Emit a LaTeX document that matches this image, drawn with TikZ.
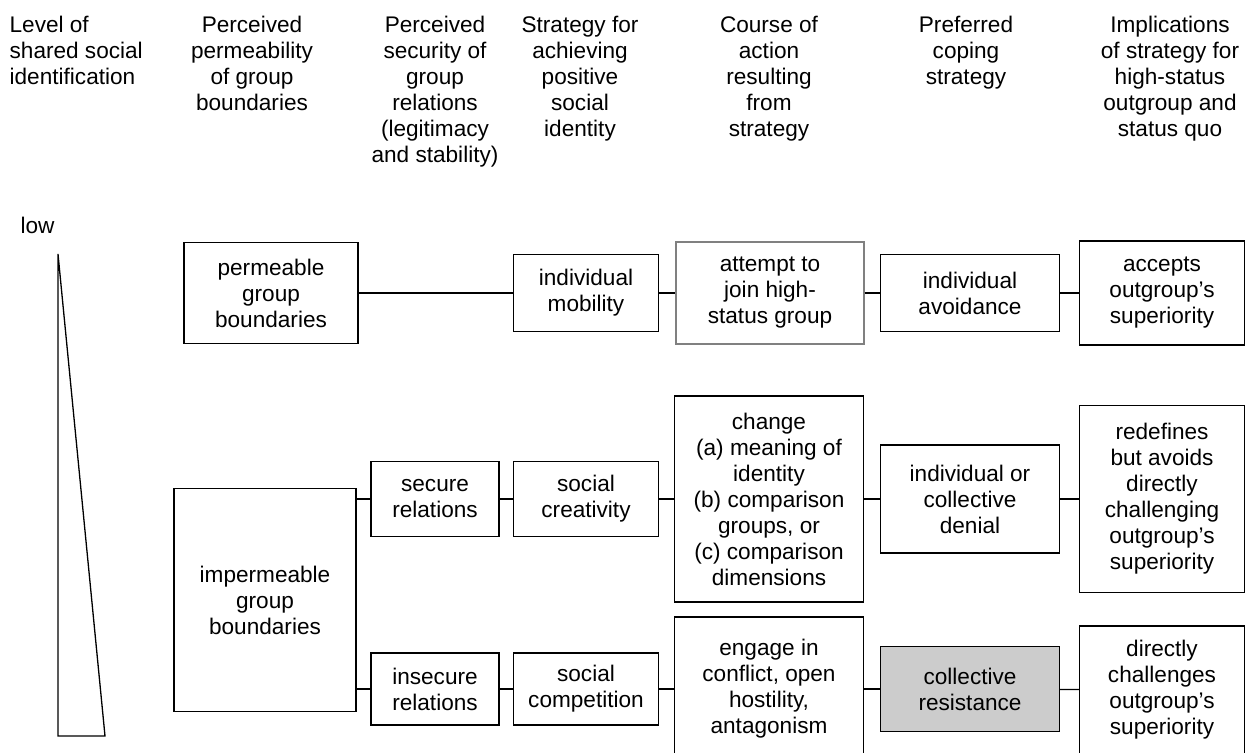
\documentclass[tikz,border=0pt]{standalone}
\usepackage{fontspec}
\setmainfont{Liberation Sans}
\begin{document}
\begin{tikzpicture}[x=1pt,y=-1pt, line width=1.3pt,
  font=\fontsize{22.6}{26}\selectfont,
  box/.style={draw, align=center, inner sep=2pt},
  head/.style={align=center, anchor=north, inner sep=0pt}]
\useasboundingbox (0,0) rectangle (1247,752);

% headings
\node[head, align=left, anchor=north west] (hlevel) at (9,15) {Level of\\shared social\\identification};
\foreach \x/\htext [count=\i] in {252/{Perceived\\permeability\\of group\\boundaries},
  435/{Perceived\\security of\\group\\relations\\(legitimacy\\and stability)},
  580/{Strategy for\\achieving\\positive\\social\\identity},
  769/{Course of\\action\\resulting\\from\\strategy},
  966/{Preferred\\coping\\strategy},
  1170/{Implications\\of strategy for\\high-status\\outgroup and\\status quo}}
\node[head] (head\i) at (\x,15) {\htext};

% level wedge
\node[anchor=west, inner sep=0pt] (low) at (20,225) {low};
\draw (58,254) -- (58,736) -- (105,736) -- cycle;

% boundaries
\node[box, minimum width=174pt, minimum height=101pt] (perm) at (271,293) {permeable\\group\\boundaries};
\node[box, minimum width=182pt, minimum height=223pt] (imperm) at (265,600) {impermeable\\group\\boundaries};

% relations
\node[box, minimum width=128pt, minimum height=75pt] (sec) at (435,499) {secure\\relations};
\node[box, minimum width=128pt, minimum height=72pt] (insec) at (435,689) {insecure\\relations};

% strategy
\node[box, minimum width=145pt, minimum height=77pt] (mob) at (586,293) {individual\\mobility};
\node[box, minimum width=145pt, minimum height=75pt] (crea) at (586,499) {social\\creativity};
\node[box, minimum width=145pt, minimum height=72pt] (comp) at (586,689) {social\\competition};

% course of action
\node[box, draw=black!50, minimum width=188pt, minimum height=102pt] (att) at (770,293) {attempt to\\join high-\\status group};
\node[box, minimum width=189pt, minimum height=206pt] (chg) at (769,499) {change\\(a) meaning of\\identity\\(b) comparison\\groups, or\\(c) comparison\\dimensions};
\node[box, minimum width=189pt, minimum height=144pt] (eng) at (769,689) {engage in\\conflict, open\\hostility,\\antagonism};

% coping
\node[box, minimum width=179pt, minimum height=77pt] (avoid) at (970,293) {individual\\avoidance};
\node[box, minimum width=179pt, minimum height=108pt] (deny) at (970,499) {individual or\\collective\\denial};
\node[box, fill=black!20, minimum width=179pt, minimum height=85pt] (resist) at (970,689) {collective\\resistance};

% implications
\node[box, minimum width=165pt, minimum height=104pt] (acc) at (1162,293) {accepts\\outgroup’s\\superiority};
\node[box, minimum width=165pt, minimum height=187pt] (redef) at (1162,499) {redefines\\but avoids\\directly\\challenging\\outgroup’s\\superiority};
\node[box, minimum width=165pt, minimum height=128pt] (direct) at (1162,690) {directly\\challenges\\outgroup’s\\superiority};

\foreach \a/\b in {perm/mob,mob/att,att/avoid,avoid/acc,
  sec/crea,crea/chg,chg/deny,deny/redef,
  insec/comp,comp/eng,eng/resist,resist/direct}
\draw (\a) -- (\b);
\draw (imperm.east |- sec) -- (sec);
\draw (imperm.east |- insec) -- (insec);

\end{tikzpicture}
\end{document}
